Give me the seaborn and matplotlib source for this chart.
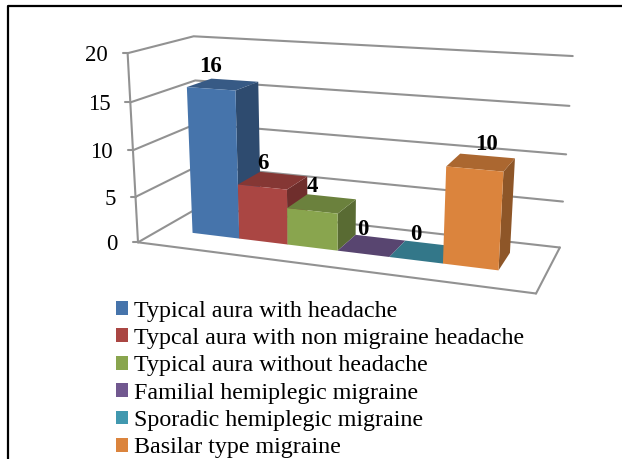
import numpy as np
import pandas as pd
import matplotlib
matplotlib.use("Agg")
import matplotlib.pyplot as plt
from matplotlib.patches import Polygon, Rectangle
from matplotlib.transforms import Transform
import seaborn as sns

# ---- data ----
group = ["Aura"]
categories = ["Typical aura with headache", "Typcal aura with non migraine headache",
              "Typical aura without headache", "Familial hemiplegic migraine",
              "Sporadic hemiplegic migraine", "Basilar type migraine"]
values = [16, 6, 4, 0, 0, 10]
colors = ["#4674AB", "#AA4643", "#89A54E", "#71588F", "#4198AF", "#DB843D"]
y_ticks = [0, 5, 10, 15, 20]
y_max = 20

# ---- 3D box scale: (u across, d into the page, z value) -> canvas pixels ----
anchors = np.array([
    (0, 0, 0, 138, 242), (0, 0, 5, 135.6, 197), (0, 0, 10, 133, 150), (0, 0, 15, 130.7, 103), (0, 0, 20, 127, 53),
    (0, 1, 0, 195, 211), (0, 1, 5, 199, 166), (0, 1, 10, 198, 121), (0, 1, 15, 196, 80), (0, 1, 20, 197, 36),
    (1, 1, 0, 560, 247), (1, 1, 5, 563, 201), (1, 1, 10, 566, 154), (1, 1, 15, 569, 106), (1, 1, 20, 572, 56),
    (1, 0, 0, 537, 295),
], dtype=float)


def fit_camera(pts):
    # the visible front axis counts more than the partly hidden back corner
    weights = np.where((pts[:, 0] == 0) & (pts[:, 1] == 0), 4.0, 1.0)
    rows = []
    for (u, d, z, px, py), k in zip(pts, weights):
        w = z / y_max
        rows.append(k * np.array([u, d, w, 1, 0, 0, 0, 0, -px * u, -px * d, -px * w, -px]))
        rows.append(k * np.array([0, 0, 0, 0, u, d, w, 1, -py * u, -py * d, -py * w, -py]))
    a = np.array(rows)
    scale = np.array([500, 500, 500, 500, 500, 500, 500, 500, 1, 1, 1, 1.0])
    _, _, vt = np.linalg.svd(a / scale)
    return (vt[-1] / scale).reshape(3, 4)


CAM = fit_camera(anchors)


def project(u, d, z):
    u, d, z = np.broadcast_arrays(np.asarray(u, float), np.asarray(d, float), np.asarray(z, float))
    h = np.stack([u, d, z / y_max, np.ones_like(u)], axis=-1) @ CAM.T
    return h[..., :2] / h[..., 2:3]


U_SHIFT = 0.492       # category centre position across the floor
D_FRONT, D_BACK = 0.35, 0.75  # depth of the bars inside the floor


class FrontFace(Transform):
    """Maps seaborn's (x, value) bar coordinates on to a plane of the 3D box."""
    input_dims = output_dims = 2
    has_inverse = False
    is_separable = False

    def __init__(self, plane_depth):
        super().__init__()
        self.plane_depth = plane_depth

    def transform_non_affine(self, xy):
        xy = np.asarray(xy, float)
        return project(xy[:, 0] + U_SHIFT, self.plane_depth, xy[:, 1])


# ---- figure ----
sns.set_theme(style="white")
plt.rcParams["font.family"] = ["Liberation Serif", "DejaVu Serif"]
plt.rcParams["text.color"] = "black"
fig = plt.figure(figsize=(6.22, 4.59), dpi=100, facecolor="white")
ax = fig.add_axes([0, 0, 1, 1])

df = pd.DataFrame({"group": group * len(values), "category": categories, "value": values})
sns.barplot(data=df, x="group", y="value", hue="category", hue_order=categories,
            palette=colors, width=0.8, gap=0, dodge=True, saturation=1, errorbar=None,
            linewidth=0, ax=ax)
bars = [p for p in ax.patches if isinstance(p, Rectangle)][:len(values)]

ax.set_xlim(0, 622)
ax.set_ylim(459, 0)
ax.axis("off")

GRID = "#929292"
LW = 1.5
front_plane = FrontFace(D_FRONT)

# walls and floor
for t in y_ticks:
    pts = project([0, 0, 1], [0, 1, 1], [t, t, t])
    ax.plot(pts[:, 0], pts[:, 1], color=GRID, lw=LW, zorder=1, solid_joinstyle="miter")
    ax.plot([pts[0, 0] - 5, pts[0, 0]], [pts[0, 1], pts[0, 1]], color=GRID, lw=LW, zorder=1)
for (u0, d0), (u1, d1) in [((0, 0), (1, 0)), ((1, 0), (1, 1))]:
    pts = project([u0, u1], [d0, d1], [0, 0])
    ax.plot(pts[:, 0], pts[:, 1], color=GRID, lw=LW, zorder=1)
pts = project([0, 0], [0, 0], [0, y_max])
ax.plot(pts[:, 0], pts[:, 1], color=GRID, lw=LW, zorder=1)

# axis numbers
for t in y_ticks:
    ax.annotate(str(t), xy=project(0, 0, t), xytext=(-20, 0), textcoords="offset pixels",
                ha="right", va="center_baseline", fontsize=16.5, color="black", zorder=30)

# bars: seaborn's front face plus a shaded side and top
label_offsets = [(-12, 18), (-10, 17), (-10, 17), (-9, 16), (-8, 17), (5, 18)]
for i, bar in enumerate(bars):
    x0, x1, h = bar.get_x(), bar.get_x() + bar.get_width(), bar.get_height()
    u0, u1 = x0 + U_SHIFT, x1 + U_SHIFT
    base = np.array(matplotlib.colors.to_rgb(colors[i]))
    side = project([u1, u1, u1, u1], [D_FRONT, D_BACK, D_BACK, D_FRONT], [0, 0, h, h])
    top = project([u0, u1, u1, u0], [D_FRONT, D_FRONT, D_BACK, D_BACK], [h, h, h, h])
    ax.add_patch(Polygon(side, closed=True, fc=base * 0.65, ec="none", zorder=10 + 3 * i))
    ax.add_patch(Polygon(top, closed=True, fc=base * 0.78, ec="none", zorder=11 + 3 * i))
    bar.set_transform(front_plane + ax.transData)
    bar.set_zorder(12 + 3 * i)
    bar.set_clip_on(False)
    dx, dy = label_offsets[i]
    ax.annotate(str(values[i]), xy=top.mean(axis=0), xytext=(dx, dy), textcoords="offset pixels",
                ha="center", va="center", fontsize=16.5, fontweight="bold", color="black", zorder=40)

# legend
sns.move_legend(ax, loc="upper left", bbox_to_anchor=(116 / 622, 1 - 300.5 / 459), frameon=False, title=None,
                fontsize=17.3, handlelength=0.5, handleheight=0.5, handletextpad=0.23,
                labelspacing=0.265, borderpad=0, borderaxespad=0)
ax.get_legend().set_zorder(50)

# page frame around the chart
ax.plot([8, 8, 622], [459, 5.5, 5.5], color="black", lw=1.6, zorder=60, clip_on=False)

fig.savefig("out.png", dpi=100)
